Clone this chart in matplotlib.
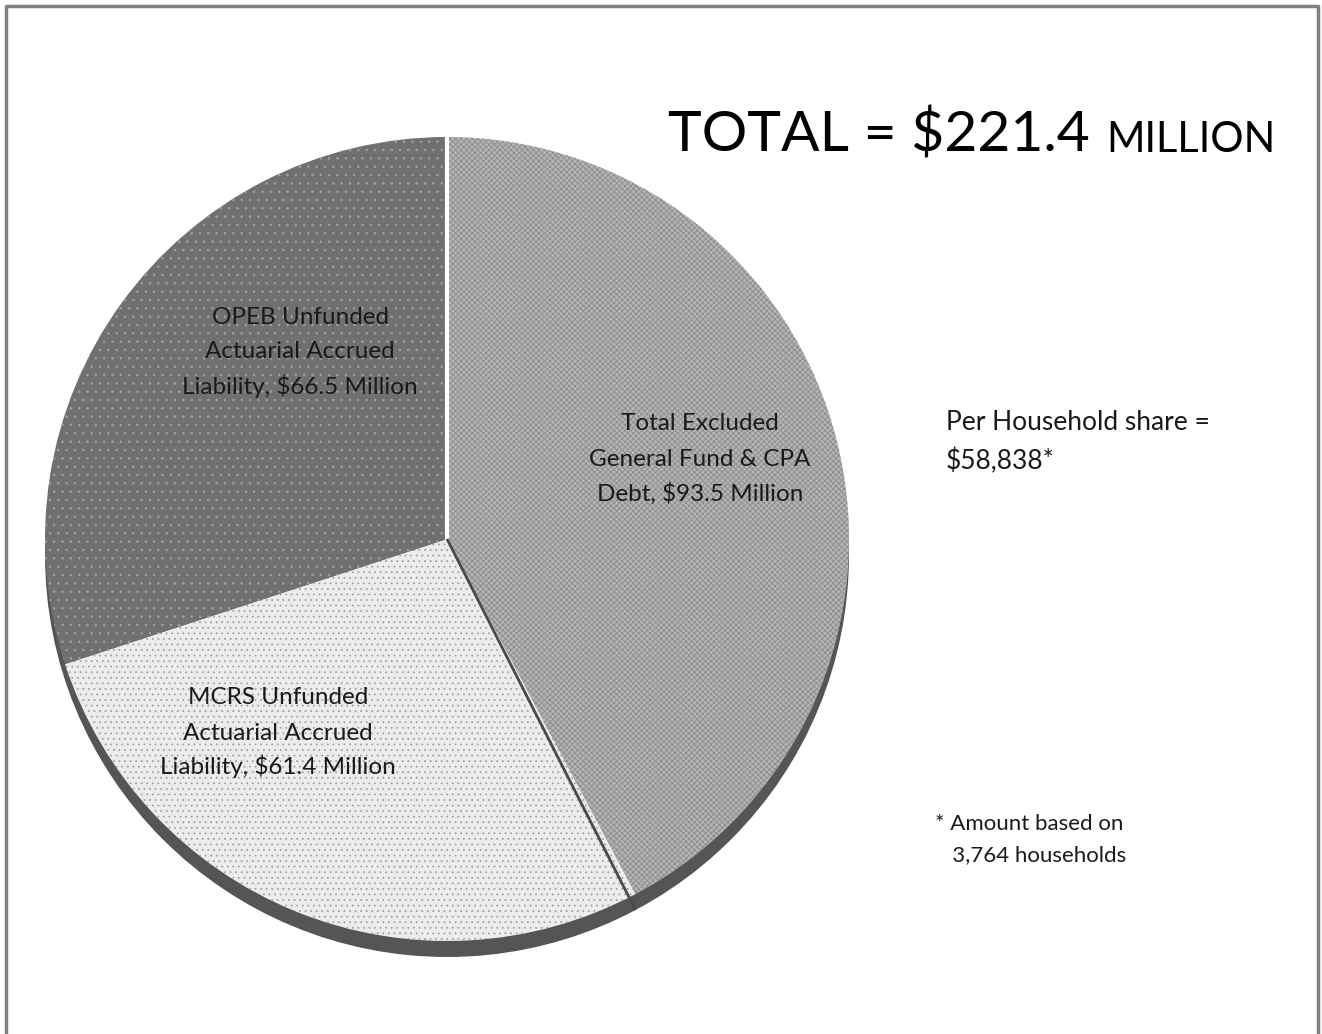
import numpy as np
import matplotlib
matplotlib.use("Agg")
import matplotlib.pyplot as plt
from matplotlib.patches import Circle

# Liability components (millions of dollars)
categories = [
    "Total Excluded\nGeneral Fund & CPA\nDebt, $93.5 Million",
    "MCRS Unfunded\nActuarial Accrued\nLiability, $61.4 Million",
    "OPEB Unfunded\nActuarial Accrued\nLiability, $66.5 Million",
]
values = [93.5, 61.4, 66.5]
total_label = "TOTAL = $221.4"
total_unit = "MILLION"
household_text = "Per Household share =\n$58,838*"
footnote_text = "* Amount based on\n   3,764 households"

face_colors = ["#b4b4b4", "#ececec", "#707070"]
hatch_colors = ["#8c8c8c", "#a2a2a2", "#a0a0a0"]
hatches = ["xxxxxx", "...", ".."]

plt.rcParams["font.family"] = ["Lato", "DejaVu Sans"]
plt.rcParams["hatch.linewidth"] = 0.6

W, H = 1322, 1034
fig = plt.figure(figsize=(W / 100, H / 100), dpi=100)
ax = fig.add_axes([0, 0, 1, 1])

cx, cy, r = 447, H - 539, 402
depth = 16

# Raised rim under the pie
ax.add_patch(Circle((cx, cy - depth), r, facecolor="#555555", edgecolor="none", zorder=1))

wedges, _ = ax.pie(values, center=(cx, cy), radius=r, startangle=90,
                   counterclock=False, frame=True)
for w, fc, hc, h in zip(wedges, face_colors, hatch_colors, hatches):
    w.set_facecolor(fc)
    w.set_edgecolor(hc)
    w.set_linewidth(0)
    w.set_hatch(h)
    w.set_zorder(2)

ax.set_xlim(0, W)
ax.set_ylim(0, H)
ax.set_aspect("equal")
ax.axis("off")

# Slice separators
angles = 90 - np.cumsum([0] + values) / sum(values) * 360
a0 = np.deg2rad(angles[0])
ax.plot([cx, cx + r * np.cos(a0)], [cy, cy + r * np.sin(a0)], color="white", lw=3, zorder=3)
a1 = np.deg2rad(angles[1])
ax.plot([cx, cx + r * np.cos(a1)], [cy, cy + r * np.sin(a1) - depth],
        color="#4a4a4a", lw=2.0, zorder=3, solid_capstyle="butt")


def stacked_text(x, y_mid, text, step, size, ha, cap):
    """Draw text line by line with a fixed baseline step (pixels, top-down)."""
    lines = text.split("\n")
    n = len(lines)
    for i, line in enumerate(lines):
        y_line = y_mid + (i - (n - 1) / 2) * step
        ax.text(x, H - (y_line + cap / 2), line, ha=ha, va="baseline",
                fontsize=size, color="#1a1a1a", zorder=4)


# Slice labels
label_pos = [(700, 457), (278, 731), (300, 350)]
for text, (x, y) in zip(categories, label_pos):
    stacked_text(x, y, text, 35, 17.5, "center", 17)

# Headline total, with a smaller unit word on the same baseline
base_y = H - 152
t1 = ax.text(668, base_y, total_label, ha="left", va="baseline", fontsize=41, color="black")
fig.canvas.draw()
bb = t1.get_window_extent()
x_end = ax.transData.inverted().transform((bb.x1, bb.y0))[0]
ax.text(x_end + 16, base_y, total_unit, ha="left", va="baseline", fontsize=30, color="black")

stacked_text(946, 440, household_text, 40, 19, "left", 19)
stacked_text(935, 838, footnote_text, 31, 16, "left", 16)

# Outer frame
ax.plot([6, 6, 1318, 1318], [-5, H - 6, H - 6, -5], color="#808080", lw=2.5, zorder=5)

fig.savefig("out.png", dpi=100, facecolor="white")
